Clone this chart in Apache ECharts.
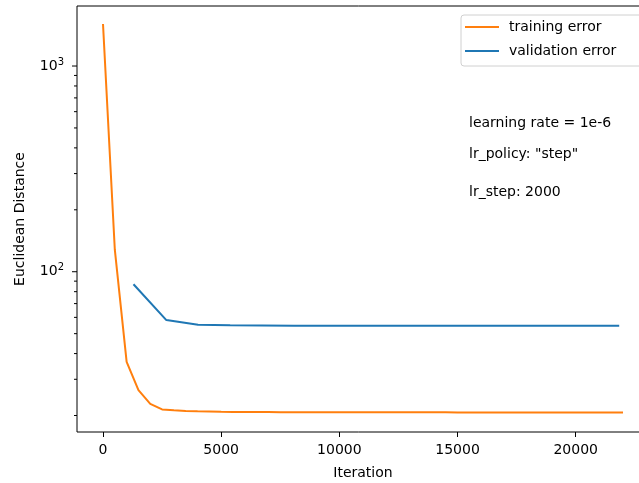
<!DOCTYPE html>
<html>
<head>
<meta charset="utf-8">
<script src="https://cdn.jsdelivr.net/npm/echarts@6/dist/echarts.min.js"></script>
<style>
  html, body { margin: 0; padding: 0; background: #fff; }
  #chart { width: 639px; height: 483px; }
</style>
</head>
<body>
<div id="chart"></div>
<script>
// Training error, logged every 500 iterations
const trainIter = [0, 500, 1000, 1500, 2000, 2500, 3000, 3500, 4000, 4500, 5000,
  5500, 6000, 6500, 7000, 7500, 8000, 8500, 9000, 9500, 10000,
  10500, 11000, 11500, 12000, 12500, 13000, 13500, 14000, 14500, 15000,
  15500, 16000, 16500, 17000, 17500, 18000, 18500, 19000, 19500, 20000,
  20500, 21000, 21500, 22000];
const trainErr = [1600, 128, 36.5, 26.6, 22.8, 21.4, 21.2, 21.05, 20.95, 20.9, 20.85,
  20.82, 20.8, 20.79, 20.78, 20.77, 20.76, 20.76, 20.75, 20.75, 20.74,
  20.74, 20.74, 20.73, 20.73, 20.73, 20.72, 20.72, 20.72, 20.72, 20.71,
  20.71, 20.71, 20.71, 20.7, 20.7, 20.7, 20.7, 20.7, 20.7, 20.7,
  20.7, 20.7, 20.7, 20.7];

// Validation error, evaluated once per pass over the validation set
const valIter = [1290, 2680, 4020, 5380, 6740, 8100, 9470, 10830, 12190, 13560,
  14920, 16280, 17650, 19010, 20380, 21840];
const valErr = [86.9, 58.2, 55.2, 54.9, 54.8, 54.7, 54.7, 54.6, 54.6, 54.6,
  54.6, 54.6, 54.6, 54.6, 54.6, 54.6];

// Axis ticks
const xTicks = [0, 5000, 10000, 15000, 20000];
const yMajorTicks = [100, 1000];
const yMinorTicks = [20, 30, 40, 50, 60, 70, 80, 90, 200, 300, 400, 500, 600, 700, 800, 900];

const notes = ['learning rate = 1e-6', 'lr_policy: "step"', 'lr_step: 2000'];

const X_MIN = -1100, X_MAX = 23100;
const Y_MIN = 16.63, Y_MAX = 1958;

const FONT = 'DejaVu Sans';

const chart = echarts.init(document.getElementById('chart'), null, { renderer: 'canvas' });

function zip(a, b) { return a.map((v, i) => [v, b[i]]); }

// y-axis tick marks drawn at axis-scale positions (majors longer than minors)
function tickSeries(values, len) {
  return {
    type: 'custom',
    silent: true,
    clip: false,
    data: values.map(v => [X_MIN, v]),
    encode: { x: 0, y: 1 },
    renderItem: function (params, api) {
      const p = api.coord([api.value(0), api.value(1)]);
      return {
        type: 'line',
        shape: { x1: p[0] - len, y1: p[1], x2: p[0], y2: p[1] },
        style: { stroke: '#000', lineWidth: 1 }
      };
    },
    z: 5
  };
}

const noteStyle = (text) => ({ text: text, font: '14px "' + FONT + '"', fill: '#000' });

const option = {
  animation: false,
  backgroundColor: '#fff',
  grid: {
    left: 77, top: 6, width: 572, height: 426,
    outerBoundsMode: 'none',
    containLabel: false,
    show: true, borderColor: '#000', borderWidth: 1, backgroundColor: 'transparent'
  },
  legend: {
    data: ['training error', 'validation error'],
    orient: 'vertical',
    left: 461, top: 15,
    padding: [5, 40, 8, 4],
    itemGap: 10,
    itemWidth: 34,
    itemHeight: 2,
    icon: 'rect',
    backgroundColor: 'rgba(255,255,255,0.8)',
    borderColor: '#d0d0d0',
    borderWidth: 1,
    borderRadius: 3,
    textStyle: { fontFamily: FONT, fontSize: 14, color: '#000', padding: [0, 0, 0, 5] }
  },
  xAxis: {
    type: 'value',
    min: X_MIN, max: X_MAX,
    name: 'Iteration',
    nameLocation: 'middle',
    nameGap: 34,
    nameTextStyle: { fontFamily: FONT, fontSize: 14, color: '#000' },
    axisLine: { show: false },
    splitLine: { show: false },
    axisTick: { show: true, customValues: xTicks, length: 5, lineStyle: { color: '#000', width: 1 } },
    axisLabel: {
      customValues: xTicks, margin: 11, fontFamily: FONT, fontSize: 14, color: '#000',
      formatter: v => String(v)
    }
  },
  yAxis: {
    type: 'log',
    logBase: 10,
    min: Y_MIN, max: Y_MAX,
    name: 'Euclidean Distance',
    nameLocation: 'middle',
    nameGap: 50,
    nameTextStyle: { fontFamily: FONT, fontSize: 14, color: '#000' },
    axisLine: { show: false },
    splitLine: { show: false },
    minorTick: { show: false },
    axisTick: { show: false },
    axisLabel: {
      margin: 13,
      showMinLabel: false,
      showMaxLabel: false,
      fontFamily: FONT, fontSize: 14, color: '#000',
      formatter: function (v) {
        const e = Math.log10(v);
        if (Math.abs(e - Math.round(e)) > 1e-6) return '';
        return '{b|10}{s|' + Math.round(e) + '}';
      },
      rich: {
        b: { fontFamily: FONT, fontSize: 14, color: '#000' },
        s: { fontFamily: FONT, fontSize: 10, color: '#000', padding: [0, 0, 8, 0] }
      }
    }
  },
  series: [
    {
      name: 'training error',
      type: 'line',
      data: zip(trainIter, trainErr),
      symbol: 'none',
      lineStyle: { color: '#ff7f0e', width: 2 },
      itemStyle: { color: '#ff7f0e' },
      z: 3
    },
    {
      name: 'validation error',
      type: 'line',
      data: zip(valIter, valErr),
      symbol: 'none',
      lineStyle: { color: '#1f77b4', width: 2 },
      itemStyle: { color: '#1f77b4' },
      z: 3
    },
    tickSeries(yMajorTicks, 5),
    tickSeries(yMinorTicks, 3)
  ],
  graphic: [
    { type: 'text', left: 469, top: 116, style: noteStyle(notes[0]) },
    { type: 'text', left: 469, top: 147, style: noteStyle(notes[1]) },
    { type: 'text', left: 469, top: 185, style: noteStyle(notes[2]) }
  ]
};

chart.setOption(option);
</script>
</body>
</html>
